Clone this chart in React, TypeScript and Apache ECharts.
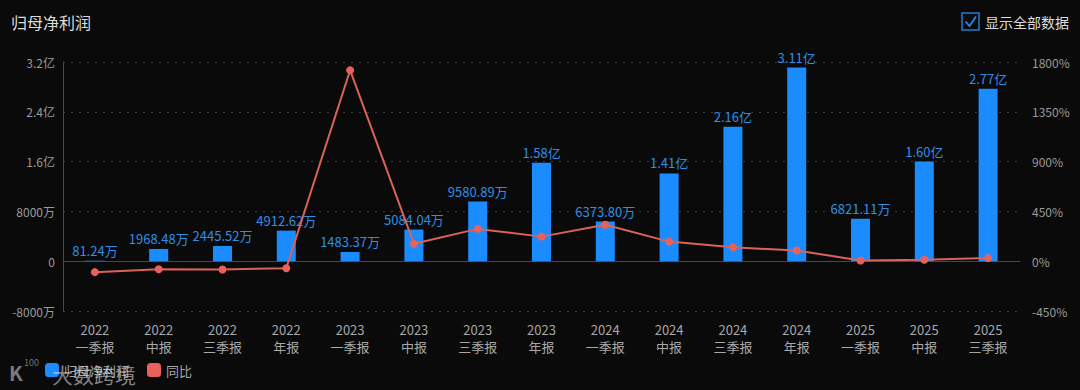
import React, { useEffect, useRef } from "react";
import * as echarts from "echarts";

const categories = [
  "2022\n一季报", "2022\n中报", "2022\n三季报", "2022\n年报",
  "2023\n一季报", "2023\n中报", "2023\n三季报", "2023\n年报",
  "2024\n一季报", "2024\n中报", "2024\n三季报", "2024\n年报",
  "2025\n一季报", "2025\n中报", "2025\n三季报",
];
// 归母净利润, 单位: 万元
const profit = [81.24, 1968.48, 2445.52, 4912.62, 1483.37, 5084.04, 9580.89, 15800, 6373.8, 14100, 21600, 31100, 6821.11, 16000, 27700];
// 同比 (%)
const yoy = [-99, -72, -75, -63, 1726, 158, 292, 222, 330, 177, 125, 97, 7, 13.5, 28];

const FONT = "'Noto Sans CJK SC', 'Noto Sans', sans-serif";

function fmtValue(v: number): string {
  if (Math.abs(v) >= 10000) return (v / 10000).toFixed(2) + "亿";
  return v.toFixed(2) + "万";
}
function fmtAxis(v: number): string {
  if (v === 0) return "0";
  if (Math.abs(v) >= 10000) return v / 10000 + "亿";
  return v + "万";
}

export default function App() {
  const ref = useRef<HTMLDivElement>(null);
  useEffect(() => {
    document.body.style.margin = "0";
    document.body.style.background = "#0a0a0a";
    const chart = echarts.init(ref.current!, undefined, { renderer: "svg" });
    chart.setOption({
      animation: false,
      backgroundColor: "#0a0a0a",
      textStyle: { fontFamily: FONT },
      title: {
        text: "归母净利润",
        left: 6,
        top: 9,
        textStyle: { color: "#dcdcdc", fontSize: 16, fontWeight: "normal", fontFamily: FONT },
      },
      grid: { left: 63, right: 60, top: 62, bottom: 79 },
      legend: {
        left: 40,
        bottom: 8,
        itemWidth: 14,
        itemHeight: 14,
        itemGap: 18,
        icon: "roundRect",
        textStyle: { color: "#a8a8a8", fontSize: 13, fontFamily: FONT },
        data: ["归母净利润", "同比"],
      },
      xAxis: {
        type: "category",
        data: categories,
        axisLine: { show: true, lineStyle: { color: "#3b4a5c" } },
        axisTick: { show: false },
        axisLabel: { color: "#a8a8a8", fontSize: 13, lineHeight: 17, margin: 10, interval: 0, fontFamily: FONT },
      },
      yAxis: [
        {
          type: "value",
          min: -8000,
          max: 32000,
          interval: 8000,
          axisLine: { show: true, lineStyle: { color: "#3b4a5c" } },
          axisTick: { show: false },
          axisLabel: { color: "#9a9a9a", fontSize: 12, formatter: fmtAxis, fontFamily: FONT },
          splitLine: { show: true, lineStyle: { color: "#3a3a3a", type: [2, 6] } },
        },
        {
          type: "value",
          min: -450,
          max: 1800,
          interval: 450,
          axisLine: { show: false },
          axisTick: { show: false },
          axisLabel: {
            color: "#9a9a9a",
            fontSize: 12,
            formatter: (v: number) => v + "%",
            margin: 12,
            fontFamily: FONT,
          },
          splitLine: { show: false },
        },
      ],
      series: [
        {
          name: "归母净利润",
          type: "bar",
          data: profit,
          barWidth: 19,
          itemStyle: { color: "#1a8cff" },
          label: {
            show: true,
            position: "top",
            distance: 4,
            color: "#2f8fe6",
            fontSize: 13,
            fontFamily: FONT,
            formatter: (p: any) => fmtValue(p.value),
          },
        },
        {
          name: "同比",
          type: "line",
          yAxisIndex: 1,
          data: yoy,
          symbol: "circle",
          symbolSize: 8,
          lineStyle: { color: "#d9625b", width: 2 },
          itemStyle: { color: "#e8625c" },
        },
      ],
      graphic: [
        {
          type: "rect",
          shape: { x: 962, y: 13, width: 17, height: 17 },
          style: { fill: "none", stroke: "#1f7fd0", lineWidth: 1.5 },
        },
        {
          type: "polyline",
          shape: { points: [[965.5, 21.5], [969.5, 26], [976, 16.5]] },
          style: { fill: "none", stroke: "#2a8ae0", lineWidth: 1.8 },
        },
        {
          type: "text",
          x: 985,
          y: 22,
          style: { text: "显示全部数据", fill: "#dcdcdc", fontSize: 14, fontFamily: FONT, verticalAlign: "middle" },
        },
        {
          type: "text",
          x: 9,
          y: 362,
          z: 100,
          style: { text: "K", fill: "rgba(220,220,220,0.55)", fontSize: 20, fontFamily: FONT, fontWeight: "bold" },
        },
        {
          type: "text",
          x: 24,
          y: 358,
          z: 100,
          style: { text: "100", fill: "rgba(220,220,220,0.5)", fontSize: 9, fontFamily: FONT },
        },
        {
          type: "text",
          x: 52,
          y: 363,
          z: 100,
          style: { text: "大数跨境", fill: "rgba(215,215,215,0.6)", fontSize: 21, fontFamily: FONT },
        },
      ],
    });
    return () => chart.dispose();
  }, []);
  return <div ref={ref} style={{ width: 1080, height: 390 }} />;
}
